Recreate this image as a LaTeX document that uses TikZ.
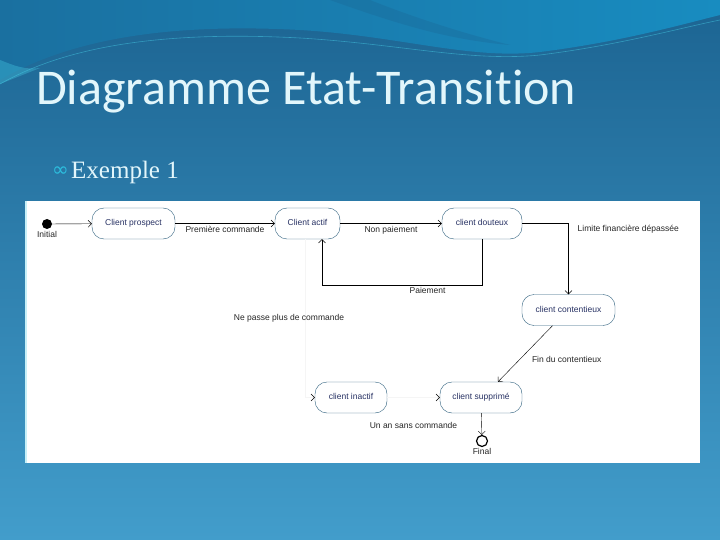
\documentclass[tikz,border=0pt]{standalone}
\usepackage{fontspec}
\usetikzlibrary{arrows.meta}
\newfontfamily\titlefont[Ligatures=NoCommon]{Carlito}
\newfontfamily\exfont{Liberation Serif}
\newfontfamily\diagfont{Liberation Sans}
\newfontfamily\symbfont{DejaVu Sans}
\definecolor{slidetop}{RGB}{28,100,146}
\definecolor{slidebot}{RGB}{66,157,203}
\definecolor{wavedark}{RGB}{26,112,160}
\definecolor{wavebright}{RGB}{24,140,192}
\definecolor{wavelight}{RGB}{70,205,230}
\definecolor{titlecol}{RGB}{226,246,251}
\definecolor{bulletcol}{RGB}{45,190,222}
\definecolor{stateline}{RGB}{45,95,125}
\definecolor{statetext}{RGB}{40,50,100}
\tikzset{
  state/.style={draw=stateline, fill=white, rounded corners=12pt, minimum height=31pt,
    inner xsep=6pt, text height=6.5pt, text depth=2pt,
    font=\diagfont\fontsize{8.5}{10}\selectfont, text=statetext},
  trans/.style={draw=black, -{Straight Barb[length=3.5pt,width=7pt]}},
  faint/.style={draw=black!4, -{Straight Barb[length=3.5pt,width=7pt,color=black]}},
  lbl/.style={font=\diagfont\fontsize{8.5}{10}\selectfont, text=black!85, inner sep=2pt}
}
\begin{document}
\begin{tikzpicture}[x=1pt,y=-1pt]
  \useasboundingbox (0,0) rectangle (720,540);

  % slide background
  \shade[top color=slidetop, bottom color=slidebot] (0,0) rectangle (720,540);
  \shade[left color=wavedark, right color=wavebright]
    (0,0) -- (0,80) .. controls (60,45) and (150,22) .. (300,30)
    .. controls (400,36) and (470,60) .. (540,52) .. controls (620,42) and (680,25) .. (720,15)
    -- (720,0) -- cycle;
  \fill[slidetop, opacity=.3] (330,0) .. controls (400,25) and (450,40) .. (510,45)
    .. controls (450,30) and (400,12) .. (370,0) -- cycle;
  \draw[wavelight, opacity=.5, line width=.6pt] (0,84) .. controls (60,50) and (150,30) .. (300,38)
    .. controls (400,44) and (470,62) .. (540,55) .. controls (620,45) and (680,28) .. (720,20);
  \fill[wavelight, opacity=.35] (0,60) .. controls (15,66) and (25,70) .. (40,68) -- (0,84) -- cycle;

  % title
  \node[anchor=base west, inner sep=0, text=titlecol, font=\titlefont\fontsize{50}{60}\selectfont]
    (title) at (36,105) {Diagramme Etat-Transition};
  \node[anchor=base east, inner sep=0, text=bulletcol, font=\symbfont\fontsize{20}{22}\selectfont]
    (bullet) at (69,177) {∞};
  \node[anchor=base west, inner sep=0, text=titlecol, font=\exfont\fontsize{25}{29}\selectfont]
    (exemple) at (71,179) {Exemple 1};

  % diagram panel
  \fill[white] (25,201) rectangle (700,463);
  \draw[wavelight!30, line width=2pt] (26,201) -- (26,463);

  \begin{scope}[every node/.style={state}]
    \node[minimum width=83pt] (prospect)    at (133.5,223.5) {Client prospect};
    \node[minimum width=65pt] (actif)       at (307.5,223.5) {Client actif};
    \node[minimum width=80pt] (douteux)     at (482,223.5)   {client douteux};
    \node[minimum width=93pt] (contentieux) at (568.5,310)   {client contentieux};
    \node[minimum width=72pt] (inactif)     at (351,397.5)   {client inactif};
    \node[minimum width=82pt] (supprime)    at (481,397.5)   {client supprimé};
  \end{scope}

  \node[circle, fill=black, inner sep=0, minimum size=10pt,
    label={[lbl, label distance=0pt]below:Initial}] (init) at (47,224) {};
  \node[circle, draw=black, line width=1.2pt, inner sep=0, minimum size=11pt,
    label={[lbl, label distance=-1pt]below:Final}] (final) at (482,441) {};

  \begin{scope}[every node/.style={lbl}]
    \begin{scope}[every edge/.style={trans}]
      \path (init)     edge (prospect);
      \path (prospect) edge node[below=1pt] {Première commande} (actif);
      \path (actif)    edge node[below=1pt] {Non paiement} (douteux);
      \path (supprime) edge (final);
      \path ([xshift=-16pt]contentieux.south) edge node[pos=.6, anchor=west, xshift=10pt] {Fin du contentieux}
        ([xshift=17pt]supprime.north);
    \end{scope}
    \draw[trans] (douteux.east) -| (contentieux.north)
      node[pos=.5, anchor=north west, xshift=7pt] {Limite financière dépassée};
    \draw[trans] (douteux.south) -- ++(0,46) -| ([xshift=14.5pt]actif.south)
      node[pos=.17, below] {Paiement};
    \draw[faint] ([xshift=-2.5pt]actif.south) |- (inactif.west)
      node[pos=.25, xshift=-16pt] {Ne passe plus de commande};
    \draw[faint] (inactif) -- (supprime) node[midway, below=23pt] {Un an sans commande};
  \end{scope}

\end{tikzpicture}
\end{document}
